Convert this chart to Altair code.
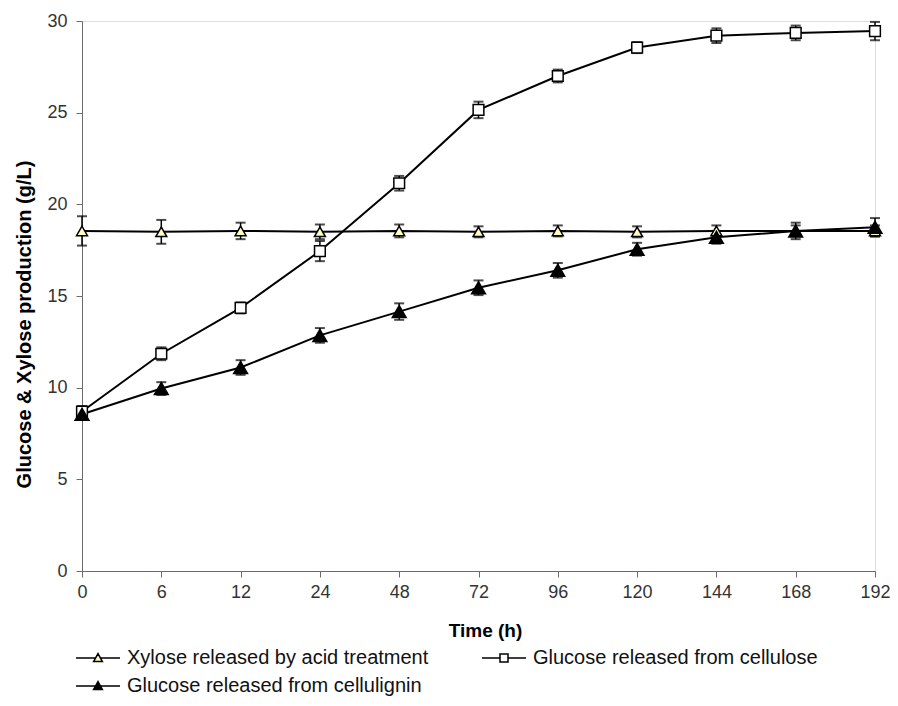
import altair as alt
import pandas as pd

times = ["0", "6", "12", "24", "48", "72", "96", "120", "144", "168", "192"]

series_names = [
    "Xylose released by acid treatment",
    "Glucose released from cellulose",
    "Glucose released from cellulignin",
]

xylose = [18.55, 18.5, 18.55, 18.5, 18.55, 18.5, 18.55, 18.5, 18.55, 18.55, 18.55]
xylose_err = [0.8, 0.65, 0.45, 0.4, 0.35, 0.3, 0.3, 0.3, 0.3, 0.3, 0.3]

cellulose = [8.7, 11.85, 14.35, 17.45, 21.15, 25.15, 27.0, 28.55, 29.2, 29.35, 29.45]
cellulose_err = [0.3, 0.35, 0.3, 0.55, 0.4, 0.45, 0.35, 0.3, 0.4, 0.4, 0.5]

cellulignin = [8.55, 9.95, 11.1, 12.85, 14.15, 15.45, 16.4, 17.55, 18.2, 18.55, 18.75]
cellulignin_err = [0.3, 0.35, 0.4, 0.4, 0.45, 0.4, 0.4, 0.35, 0.35, 0.45, 0.5]

fills = ["#FFFFC4", "#FFFFFF", "#000000"]
strokes = ["#000000", "#000000", "#000000"]
marker_shapes = ["triangle-up", "square", "triangle-up"]
marker_sizes = [120, 115, 190]
legend_paths = [
    "M-5.5,0H-0.6M0.6,0H5.5M0,-1.1L1.1,0.9L-1.1,0.9Z",
    "M-5.5,0H-1M1,0H5.5M-1,-1H1V1H-1Z",
    "M-5.5,0H-0.6M0.6,0H5.5M0,-1.1L1.1,0.9L-1.1,0.9Z",
]

rows = []
for name, vals, errs in zip(series_names, [xylose, cellulose, cellulignin],
                            [xylose_err, cellulose_err, cellulignin_err]):
    for t, v, e in zip(times, vals, errs):
        rows.append({"series": name, "time": t, "value": v, "lo": v - e, "hi": v + e})
df = pd.DataFrame(rows)

FONT = "Liberation Sans"

x_enc = alt.X(
    "time:O", sort=times, scale=alt.Scale(type="point", padding=0),
    axis=alt.Axis(title="Time (h)", labelAngle=0, labelFontSize=18, labelColor="#333333",
                  labelFont=FONT, titleFont=FONT, titleFontSize=19, titleFontWeight="bold",
                  titleColor="#000000", tickSize=6, labelPadding=6, domainColor="#6b6b6b",
                  tickColor="#6b6b6b", titleY=59, titleBaseline="middle", titleX=403),
)
y_scale = alt.Scale(domain=[0, 30], nice=False)
y_axis = alt.Axis(title="Glucose & Xylose production (g/L)", values=[0, 5, 10, 15, 20, 25, 30],
                  labelFontSize=18, labelColor="#333333", labelFont=FONT, titleFont=FONT,
                  titleFontSize=20, titleFontWeight="bold", titleColor="#000000",
                  tickSize=6, labelPadding=9, domainColor="#6b6b6b", tickColor="#6b6b6b",
                  grid=False, titleX=-58, titleY=303, titleBaseline="middle")

base = alt.Chart(df).encode(x=x_enc)

lines = base.mark_line(color="black", strokeWidth=2).encode(
    y=alt.Y("value:Q", scale=y_scale, axis=y_axis), detail="series:N")

rules = base.mark_rule(color="black", strokeWidth=1.5).encode(
    y=alt.Y("lo:Q", scale=y_scale), y2="hi:Q")
cap_hi = base.mark_tick(color="black", thickness=2, size=10).encode(y=alt.Y("hi:Q", scale=y_scale))
cap_lo = base.mark_tick(color="black", thickness=2, size=10).encode(y=alt.Y("lo:Q", scale=y_scale))

point_layers = []
for name, f, s, sz in zip(series_names, fills, marker_shapes, marker_sizes):
    point_layers.append(
        base.transform_filter(alt.datum.series == name)
        .mark_point(shape=s, filled=True, fill=f, stroke="black", strokeWidth=1.5, size=sz, opacity=1)
        .encode(y=alt.Y("value:Q", scale=y_scale))
    )

leg = alt.Legend(title=None, orient="none", legendX=6, legendY=627,
                 columns=2, direction="horizontal", columnPadding=50,
                 rowPadding=8, labelOffset=19, symbolSize=64,
                 labelFontSize=20, labelFont=FONT, labelColor="#111111",
                 labelLimit=0, padding=0, symbolStrokeWidth=1.5, symbolOpacity=1)

legend_layer = (
    base.transform_filter("false")
    .mark_point(filled=True, strokeWidth=1.5, opacity=1)
    .encode(
        y=alt.Y("value:Q", scale=y_scale),
        shape=alt.Shape("series:N", scale=alt.Scale(domain=series_names, range=legend_paths), legend=leg),
        fill=alt.Fill("series:N", scale=alt.Scale(domain=series_names, range=fills), legend=leg),
        stroke=alt.Stroke("series:N", scale=alt.Scale(domain=series_names, range=strokes), legend=leg),
    )
)

chart = alt.layer(lines, rules, cap_hi, cap_lo, *point_layers, legend_layer).properties(
    width=793, height=550,
    autosize=alt.AutoSizeParams(type="none"),
    padding={"left": 74, "top": 13, "right": 15, "bottom": 127},
).configure_view(stroke=None).configure(background="white")

chart.save("out.html", embed_options={"renderer": "svg", "actions": False})
